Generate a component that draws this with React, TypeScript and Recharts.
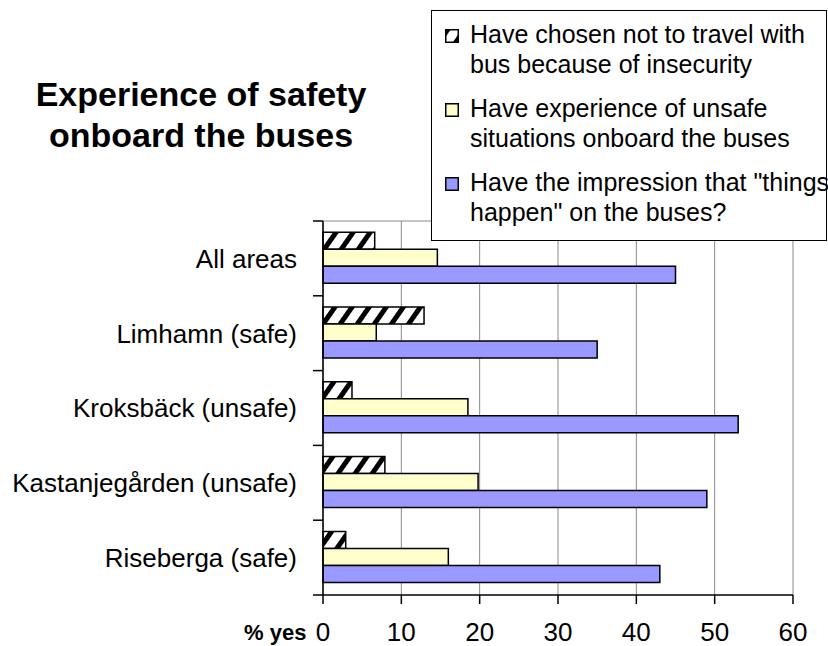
import React from 'react';
import { BarChart, Bar, XAxis, YAxis, CartesianGrid, Legend } from 'recharts';

// ---- data ----
const categories = [
  'All areas',
  'Limhamn (safe)',
  'Kroksbäck (unsafe)',
  'Kastanjegården (unsafe)',
  'Riseberga (safe)',
];
const choseNotToTravel = [6.6, 12.9, 3.7, 7.9, 2.9];
const unsafeExperience = [14.6, 6.8, 18.5, 19.8, 16.0];
const thingsHappen = [45, 35, 53, 49, 43];
const xTicks = [0, 10, 20, 30, 40, 50, 60];

const seriesKeys = ['notTravel', 'unsafe', 'happen'];
const seriesLabels = [
  ['Have chosen not to travel with', 'bus because of insecurity'],
  ['Have experience of unsafe', 'situations onboard the buses'],
  ['Have the impression that "things', 'happen" on the buses?'],
];
const seriesFills = ['url(#hatch)', '#FFFFCC', '#9999FF'];

const titleLines = ['Experience of safety', 'onboard the buses'];
const xAxisTitle = '% yes';

const data = categories.map((name, i) => ({
  name,
  notTravel: choseNotToTravel[i],
  unsafe: unsafeExperience[i],
  happen: thingsHappen[i],
}));

// ---- layout ----
const FONT = '"Liberation Sans", Arial, Helvetica, sans-serif';
const W = 828;
const H = 646;
const MARGIN = { top: 221, right: 35, bottom: 0, left: 0 };
const Y_AXIS_W = 323;
const X_AXIS_H = 51;
const AXIS_X = MARGIN.left + Y_AXIS_W;
const PLOT_BOTTOM = H - MARGIN.bottom - X_AXIS_H;
const PLOT_H = PLOT_BOTTOM - MARGIN.top;
const BAND = PLOT_H / categories.length;

const YTick = (props: any) => {
  const { y, payload, index } = props;
  const half = BAND / 2;
  return (
    <g>
      <text
        x={AXIS_X - 26}
        y={y}
        dy={9.3}
        textAnchor="end"
        fontSize={26}
        fontFamily={FONT}
        fill="#000"
      >
        {payload.value}
      </text>
      <line x1={AXIS_X - 10} x2={AXIS_X} y1={y - half} y2={y - half} stroke="#000" strokeWidth={1.5} />
      {index === categories.length - 1 && (
        <line x1={AXIS_X - 10} x2={AXIS_X} y1={y + half} y2={y + half} stroke="#000" strokeWidth={1.5} />
      )}
    </g>
  );
};

const XTick = (props: any) => {
  const { x, payload } = props;
  return (
    <text
      x={x}
      y={PLOT_BOTTOM + 46}
      textAnchor="middle"
      fontSize={26}
      fontFamily={FONT}
      fill="#000"
    >
      {payload.value}
    </text>
  );
};

const LegendBox = () => (
  <div
    style={{
      position: 'relative',
      boxSizing: 'border-box',
      width: 396,
      height: 231,
      border: '1.5px solid #000',
      background: '#fff',
      fontFamily: FONT,
      fontSize: 25,
      lineHeight: '30px',
      color: '#000',
    }}
  >
    {seriesLabels.map((lines, i) => (
      <div key={i} style={{ position: 'absolute', left: 0, top: 8.3 + i * 74 }}>
        <svg
          width={14}
          height={14}
          style={{ position: 'absolute', left: 13, top: 9.5 }}
        >
          <rect x={0.75} y={0.75} width={12.5} height={12.5} fill={seriesFills[i]} stroke="#000" strokeWidth={1.5} />
        </svg>
        {lines.map((ln, j) => (
          <div key={j} style={{ position: 'absolute', left: 38, top: j * 30, whiteSpace: 'nowrap' }}>
            {ln}
          </div>
        ))}
      </div>
    ))}
  </div>
);

export default function App() {
  return (
    <div style={{ position: 'absolute', left: 0, top: 0, width: W, height: H, background: '#fff' }}>
      <svg width={0} height={0} style={{ position: 'absolute' }}>
        <defs>
          <pattern id="hatch" patternUnits="userSpaceOnUse" width={14} height={14} patternTransform="rotate(35)">
            <rect x={0} y={0} width={14} height={14} fill="#fff" />
            <rect x={0} y={0} width={5} height={14} fill="#000" />
          </pattern>
        </defs>
      </svg>

      <BarChart
        width={W}
        height={H}
        data={data}
        layout="vertical"
        margin={MARGIN}
        barCategoryGap="15%"
        barGap={0}
      >
        <CartesianGrid
          stroke="#8a8a8a"
          strokeWidth={1}
          vertical={true}
          horizontal={true}
          horizontalCoordinatesGenerator={({ offset }: any) => [offset.top]}
        />
        <XAxis
          type="number"
          domain={[0, 60]}
          ticks={xTicks}
          interval={0}
          height={X_AXIS_H}
          tickSize={9}
          tickLine={{ stroke: '#000', strokeWidth: 1.5 }}
          axisLine={{ stroke: '#000', strokeWidth: 1.5 }}
          tick={<XTick />}
        />
        <YAxis
          type="category"
          dataKey="name"
          width={Y_AXIS_W}
          interval={0}
          tickLine={false}
          axisLine={{ stroke: '#000', strokeWidth: 1.5 }}
          tick={<YTick />}
        />
        <Legend
          layout="horizontal"
          verticalAlign="middle"
          align="center"
          wrapperStyle={{ left: 431, top: 10, width: 396, height: 231 }}
          content={() => <LegendBox />}
        />
        {seriesKeys.map((k, i) => (
          <Bar
            key={k}
            dataKey={k}
            fill={seriesFills[i]}
            stroke="#000"
            strokeWidth={1.5}
            isAnimationActive={false}
          />
        ))}
      </BarChart>

      {titleLines.map((t, i) => (
        <div
          key={i}
          style={{
            position: 'absolute',
            left: 0,
            width: 402,
            top: 74.3 + i * 41,
            textAlign: 'center',
            fontFamily: FONT,
            fontWeight: 'bold',
            fontSize: 34,
            lineHeight: '41px',
            color: '#000',
            whiteSpace: 'nowrap',
          }}
        >
          {t}
        </div>
      ))}

      <div
        style={{
          position: 'absolute',
          left: 244,
          top: 622.4,
          fontFamily: FONT,
          fontWeight: 'bold',
          fontSize: 22,
          lineHeight: '22px',
          color: '#000',
          whiteSpace: 'nowrap',
        }}
      >
        {xAxisTitle}
      </div>
    </div>
  );
}
